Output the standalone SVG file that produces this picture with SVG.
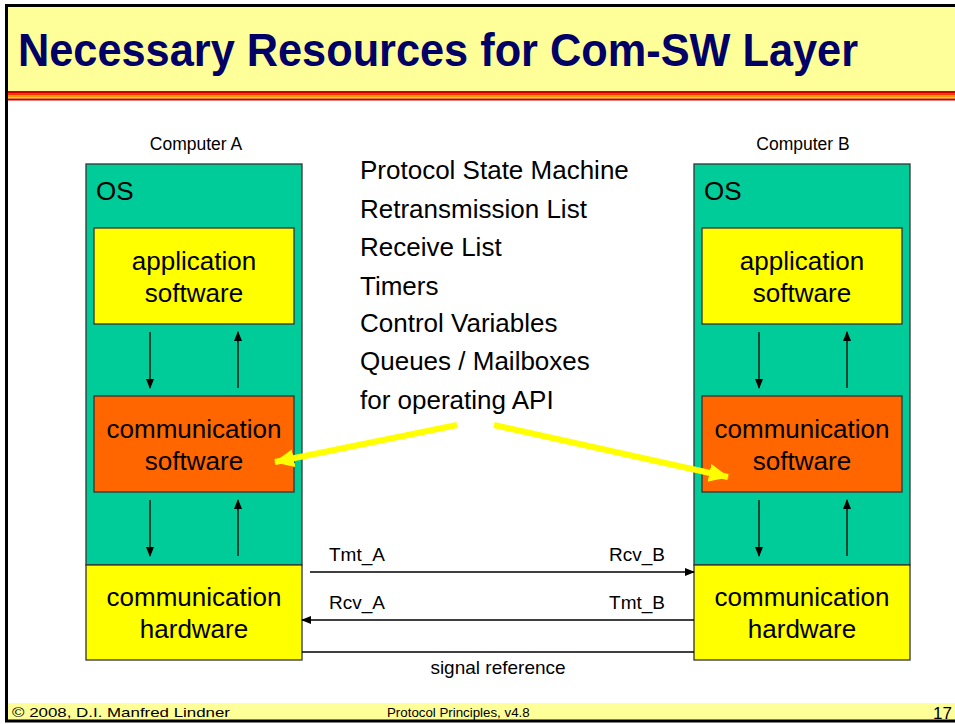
<svg xmlns="http://www.w3.org/2000/svg" width="955" height="724" viewBox="0 0 955 724">
<defs>
<style>
text{font-family:"Liberation Sans",Arial,sans-serif;fill:#000}
.big{font-size:26px}
.box{font-size:26px;text-anchor:middle}
.sig{font-size:19px}
.thin{stroke:#000;stroke-width:1.3;fill:none}
.os{fill:#00CC99;stroke:#333;stroke-width:1.3}
.yel{fill:#FFFF00;stroke:#333;stroke-width:1.3}
.org{fill:#FF6600;stroke:#333;stroke-width:1.3}
.ya{stroke:#FFFF00;stroke-width:6;fill:none}
</style>
<marker id="ah" markerWidth="10" markerHeight="8" refX="9" refY="4" orient="auto" markerUnits="userSpaceOnUse">
<path d="M0,0 L10,4 L0,8 Z" fill="#000"/>
</marker>
<marker id="yh" markerWidth="20" markerHeight="18" refX="19" refY="9" orient="auto" markerUnits="userSpaceOnUse">
<path d="M0,0 L20,9 L0,18 Z" fill="#FFFF00"/>
</marker>
</defs>
<rect x="0" y="0" width="955" height="724" fill="#fff"/>
<g id="frame">
<rect x="7" y="6" width="960" height="86" fill="#FFFF99"/>
<rect x="7" y="91" width="960" height="2" fill="#CC0000"/>
<rect x="7" y="93" width="960" height="2" fill="#FF3300"/>
<rect x="7" y="95" width="960" height="2" fill="#FF9900"/>
<rect x="7" y="97" width="960" height="1.5" fill="#FFCC00"/>
<rect x="7" y="98.5" width="960" height="2" fill="#CC0000"/>
<rect x="7" y="703" width="960" height="17" fill="#FFFF99"/>
<rect x="6.5" y="5.5" width="960" height="715.5" fill="none" stroke="#000" stroke-width="3"/>
<text x="18" y="66" style="font-size:46px;font-weight:bold;fill:#000066" textLength="840" lengthAdjust="spacingAndGlyphs">Necessary Resources for Com-SW Layer</text>
<text x="12" y="717" style="font-size:13.5px" textLength="218" lengthAdjust="spacingAndGlyphs">© 2008, D.I. Manfred Lindner</text>
<text x="387" y="717" style="font-size:13.3px">Protocol Principles, v4.8</text>
<text x="933" y="719" style="font-size:17px">17</text>
</g>
<g id="computerA">
<text x="196" y="150" style="font-size:17.5px;text-anchor:middle">Computer A</text>
<rect class="os" x="86" y="164" width="216" height="401"/>
<text class="big" x="96" y="200">OS</text>
</g>
<g id="appA">
<rect class="yel" x="94" y="228" width="200" height="96"/>
<text class="box" x="194" y="270">application</text>
<text class="box" x="194" y="302">software</text>
</g>
<g id="comswA">
<rect class="org" x="94" y="396" width="200" height="96"/>
<text class="box" x="194" y="438">communication</text>
<text class="box" x="194" y="470">software</text>
</g>
<g id="comhwA">
<rect class="yel" x="86" y="565" width="216" height="95"/>
<text class="box" x="194" y="606">communication</text>
<text class="box" x="194" y="638">hardware</text>
</g>
<g id="computerB">
<text x="803" y="150" style="font-size:17.5px;text-anchor:middle">Computer B</text>
<rect class="os" x="694" y="164" width="216" height="401"/>
<text class="big" x="704" y="200">OS</text>
</g>
<g id="appB">
<rect class="yel" x="702" y="228" width="200" height="96"/>
<text class="box" x="802" y="270">application</text>
<text class="box" x="802" y="302">software</text>
</g>
<g id="comswB">
<rect class="org" x="702" y="396" width="200" height="96"/>
<text class="box" x="802" y="438">communication</text>
<text class="box" x="802" y="470">software</text>
</g>
<g id="comhwB">
<rect class="yel" x="694" y="565" width="216" height="95"/>
<text class="box" x="802" y="606">communication</text>
<text class="box" x="802" y="638">hardware</text>
</g>
<g id="resources">
<text class="big" x="360" y="179">Protocol State Machine</text>
<text class="big" x="360" y="218">Retransmission List</text>
<text class="big" x="360" y="256">Receive List</text>
<text class="big" x="360" y="295">Timers</text>
<text class="big" x="360" y="332">Control Variables</text>
<text class="big" x="360" y="370">Queues / Mailboxes</text>
<text class="big" x="360" y="409">for operating API</text>
</g>
<g id="connectors">
<line class="thin" x1="150" y1="332" x2="150" y2="388" marker-end="url(#ah)"/>
<line class="thin" x1="238" y1="388" x2="238" y2="332" marker-end="url(#ah)"/>
<line class="thin" x1="150" y1="500" x2="150" y2="556" marker-end="url(#ah)"/>
<line class="thin" x1="238" y1="556" x2="238" y2="500" marker-end="url(#ah)"/>
<line class="thin" x1="759" y1="332" x2="759" y2="388" marker-end="url(#ah)"/>
<line class="thin" x1="847" y1="388" x2="847" y2="332" marker-end="url(#ah)"/>
<line class="thin" x1="759" y1="500" x2="759" y2="556" marker-end="url(#ah)"/>
<line class="thin" x1="847" y1="556" x2="847" y2="500" marker-end="url(#ah)"/>
<line class="thin" x1="310" y1="572" x2="694" y2="572" marker-end="url(#ah)"/>
<line class="thin" x1="694" y1="620" x2="302" y2="620" marker-end="url(#ah)"/>
<line class="thin" x1="302" y1="652" x2="694" y2="652"/>
<text class="sig" x="329" y="561">Tmt_A</text>
<text class="sig" x="665" y="561" text-anchor="end">Rcv_B</text>
<text class="sig" x="329" y="609">Rcv_A</text>
<text class="sig" x="665" y="609" text-anchor="end">Tmt_B</text>
<text class="sig" x="498" y="674" text-anchor="middle">signal reference</text>
<line class="ya" x1="457" y1="425" x2="275" y2="462" marker-end="url(#yh)"/>
<line class="ya" x1="494" y1="425" x2="728" y2="477" marker-end="url(#yh)"/>
</g>
</svg>
